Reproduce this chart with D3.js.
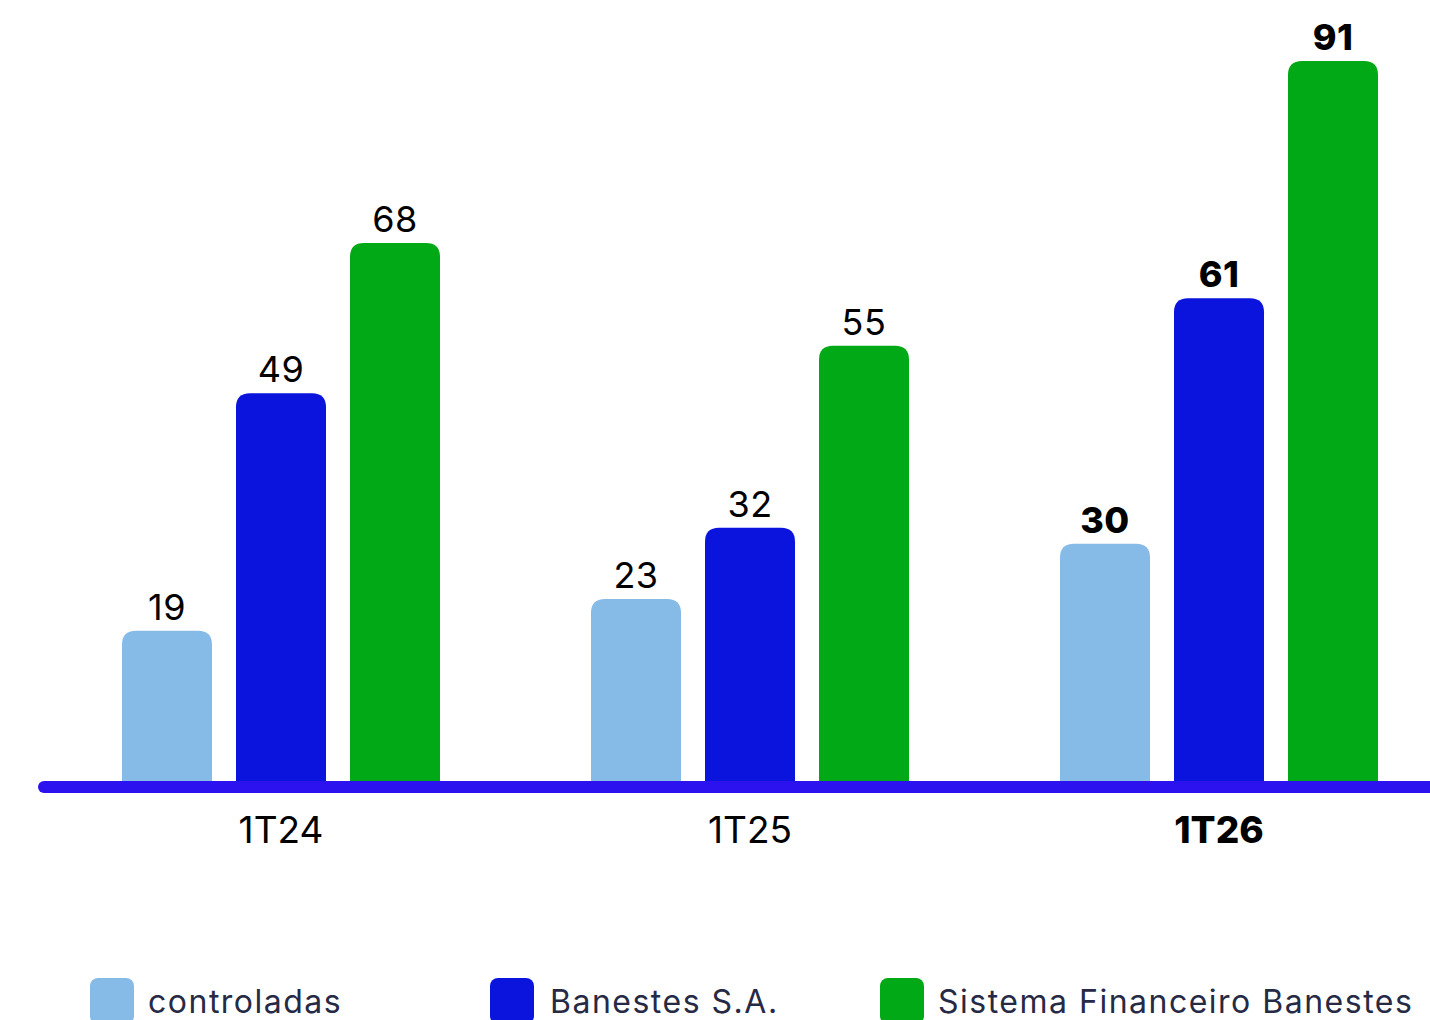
<!DOCTYPE html>
<html>
<head>
<meta charset="utf-8">
<script src="https://cdn.jsdelivr.net/npm/d3@7"></script>
<style>
  body { margin: 0; background: #fff; }
  svg { display: block; font-family: Inter, "Noto Sans", sans-serif; }
</style>
</head>
<body>
<svg id="chart" width="1430" height="1020"></svg>
<script>
// chart values
var periods = ["1T24", "1T25", "1T26"];
var seriesNames = ["controladas", "Banestes S.A.", "Sistema Financeiro Banestes"];
var controladas = [19, 23, 30];
var banestes = [49, 32, 61];
var sistema = [68, 55, 91];
var colors = ["#86bae7", "#0a14dc", "#02a917"];

var series = [controladas, banestes, sistema];
var highlight = "1T26"; // last period is drawn bold

var svg = d3.select("#chart");

var x0 = d3.scalePoint().domain(periods).range([281, 1219]);
var x1 = d3.scaleBand().domain(d3.range(series.length))
    .range([-159, 159]).paddingInner(24 / 114).paddingOuter(0);
var y = d3.scaleLinear().domain([0, 91]).range([781, 61]);

// rounded top bar
var barPath = function(x, y0, w, h, r) {
    r = Math.min(r, h, w / 2);
    return "M" + x + "," + (y0 + h) +
        "V" + (y0 + r) +
        "Q" + x + "," + y0 + " " + (x + r) + "," + y0 +
        "H" + (x + w - r) +
        "Q" + (x + w) + "," + y0 + " " + (x + w) + "," + (y0 + r) +
        "V" + (y0 + h) + "Z";
};

var rows = [];
periods.forEach(function(p, i) {
    series.forEach(function(s, j) {
        rows.push({ period: p, idx: j, value: s[i] });
    });
});

var g = svg.append("g");

g.selectAll("path.bar")
    .data(rows)
    .enter().append("path")
    .attr("class", "bar")
    .attr("fill", function(d) { return colors[d.idx]; })
    .attr("d", function(d) {
        var bx = x0(d.period) + x1(d.idx);
        return barPath(bx, y(d.value), x1.bandwidth(), y(0) - y(d.value), 14);
    });

g.selectAll("text.val")
    .data(rows)
    .enter().append("text")
    .attr("class", "val")
    .attr("x", function(d) { return x0(d.period) + x1(d.idx) + x1.bandwidth() / 2; })
    .attr("y", function(d) { return y(d.value) - 11; })
    .attr("text-anchor", "middle")
    .attr("font-size", 36)
    .attr("letter-spacing", 0.5)
    .attr("font-weight", function(d) { return d.period == highlight ? 800 : 400; })
    .attr("fill", "#000")
    .text(function(d) { return d.value; });

// baseline
svg.append("line")
    .attr("x1", 44).attr("x2", 1450)
    .attr("y1", y(0) + 6).attr("y2", y(0) + 6)
    .attr("stroke", "#2b12ee")
    .attr("stroke-width", 12)
    .attr("stroke-linecap", "round");

// period labels
svg.selectAll("text.cat")
    .data(periods)
    .enter().append("text")
    .attr("class", "cat")
    .attr("x", function(d) { return x0(d); })
    .attr("y", 843)
    .attr("text-anchor", "middle")
    .attr("font-size", 37)
    .attr("font-weight", function(d) { return d == highlight ? 800 : 400; })
    .attr("fill", "#000")
    .text(function(d) { return d; });

// legend
var legendX = [90, 490, 880];
var leg = svg.selectAll("g.leg")
    .data(seriesNames)
    .enter().append("g")
    .attr("class", "leg")
    .attr("transform", function(d, i) { return "translate(" + legendX[i] + ",978)"; });

leg.append("rect")
    .attr("width", 44).attr("height", 46)
    .attr("rx", 8)
    .attr("fill", function(d, i) { return colors[i]; });

leg.append("text")
    .attr("x", function(d, i) { return i == 1 ? 60 : 58; })
    .attr("y", 35)
    .attr("font-size", 32)
    .attr("letter-spacing", 1.5)
    .attr("fill", "#262a45")
    .text(function(d) { return d; });
</script>
</body>
</html>
